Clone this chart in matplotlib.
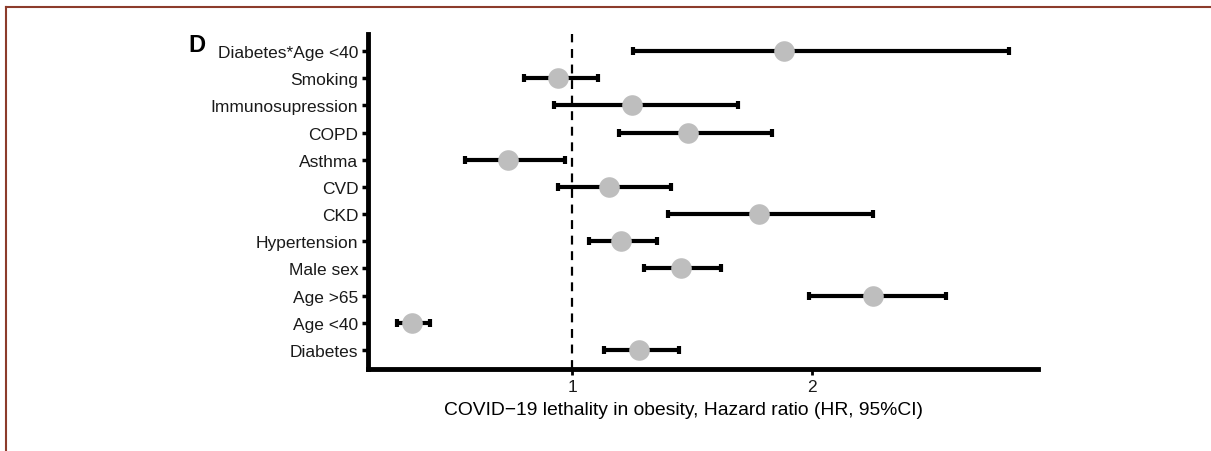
import numpy as np
import matplotlib.pyplot as plt
from matplotlib.lines import Line2D

# Daten (von unten nach oben)
labels = ["Diabetes", "Age <40", "Age >65", "Male sex", "Hypertension", "CKD",
          "CVD", "Asthma", "COPD", "Immunosupression", "Smoking", "Diabetes*Age <40"]
hr = [1.28, 0.333, 2.254, 1.454, 1.204, 1.778, 1.154, 0.733, 1.483, 1.25, 0.942, 1.883]
ci_lo = [1.133, 0.271, 1.988, 1.30, 1.071, 1.40, 0.94, 0.554, 1.196, 0.925, 0.80, 1.254]
ci_hi = [1.446, 0.408, 2.558, 1.621, 1.354, 2.254, 1.4125, 0.971, 1.833, 1.692, 1.106, 2.821]

plt.rcParams['font.family'] = ['Liberation Sans', 'DejaVu Sans']

fig = plt.figure(figsize=(12.11, 4.52), dpi=100)
ax = fig.add_axes([368/1211, 1-370/452, (1038-368)/1211, (370-35)/452])

y = np.arange(len(labels))
lo = np.array(hr) - np.array(ci_lo)
hi = np.array(ci_hi) - np.array(hr)
ax.errorbar(hr, y, xerr=[lo, hi], fmt='none', ecolor='black', elinewidth=3,
            capsize=3, capthick=3, zorder=2)
ax.scatter(hr, y, s=220, color='#bebebe', zorder=3, linewidths=0)
ax.axvline(1, color='black', linestyle=(0, (4, 3)), linewidth=1.6, zorder=1)

ax.set_xlim(0.15, 2.94)
ax.set_ylim(-0.7, 11.63)
ax.set_yticks(y)
ax.set_yticklabels(labels, fontsize=12.5, color='#1a1a1a')
ax.set_xticks([1, 2])
ax.set_xticklabels(['1', '2'], fontsize=12.5, color='#1a1a1a')
ax.tick_params(axis='y', length=4, width=2.5, pad=3)
ax.tick_params(axis='x', length=4, width=2, pad=3)

for s in ['top', 'right']:
    ax.spines[s].set_visible(False)
for s in ['left', 'bottom']:
    ax.spines[s].set_linewidth(3.5)

ax.set_xlabel('COVID\u221219 lethality in obesity, Hazard ratio (HR, 95%CI)', fontsize=13.9, labelpad=5)
ax.xaxis.label.set_x((683 - 368) / 670)

fig.text(188/1211, 1-46/452, 'D', fontsize=17, fontweight='bold', va='center', ha='left')

# Rahmen oben und links
fig.add_artist(Line2D([6/1211, 1], [1-8/452, 1-8/452], color='#8c3b2b', linewidth=1.5))
fig.add_artist(Line2D([6/1211, 6/1211], [0, 1-8/452], color='#8c3b2b', linewidth=1.5))

fig.savefig('out.png', dpi=100)
